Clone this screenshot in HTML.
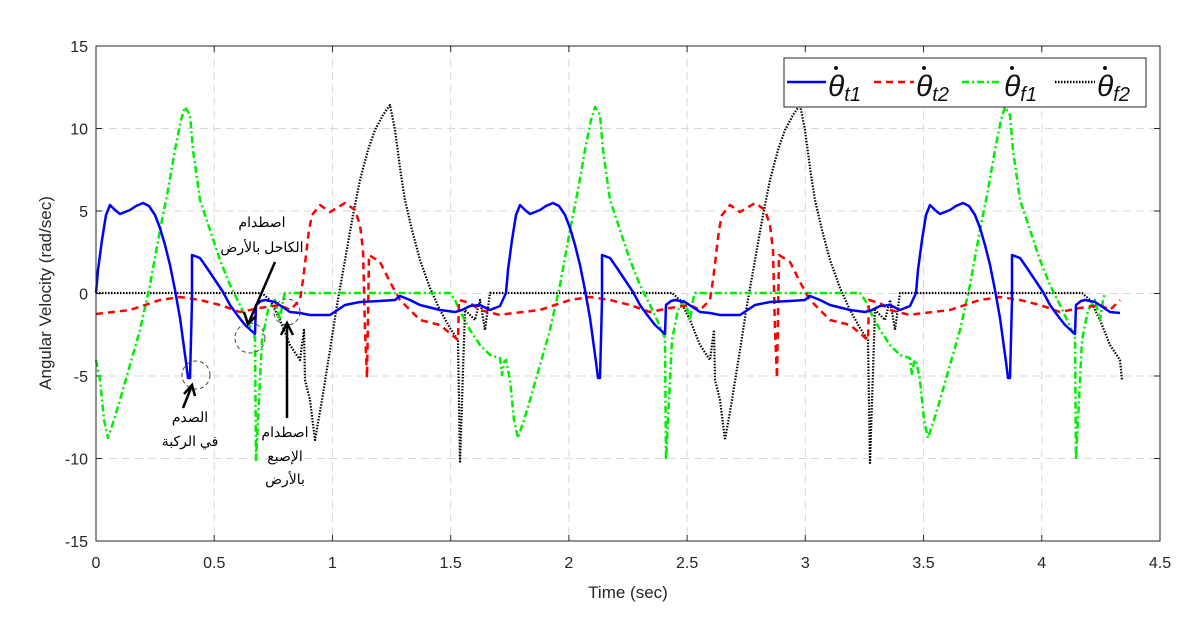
<!DOCTYPE html>
<html><head><meta charset="utf-8"><style>
body{margin:0;background:#fff}
svg{display:block}
text{font-family:"Liberation Sans","Noto Sans CJK SC",sans-serif}
</style></head><body>
<svg id="s" width="1201" height="638" xmlns="http://www.w3.org/2000/svg">
<rect width="1201" height="638" fill="#fff"/>
<g id="grid" stroke="#d8d8d8" stroke-dasharray="8,5" stroke-width="1"></g>
<g id="ticks" font-size="16" fill="#262626"></g>
<g id="series" fill="none" stroke-linejoin="round"></g>
<rect x="96" y="46" width="1064" height="495" fill="none" stroke="#262626" stroke-width="1"/>
<g fill="none" stroke="#444" stroke-dasharray="4,3" stroke-width="1">
<circle cx="196" cy="375" r="14"/><circle cx="250" cy="338" r="15"/><circle cx="287" cy="312" r="13"/>
</g>
<g stroke="#000" stroke-width="2.5" fill="none">
<line x1="275" y1="262" x2="249" y2="322"/><polyline points="244,312 248,324 256,316"/>
<line x1="183" y1="408" x2="191" y2="388"/><polyline points="184,394 192,385 195,396"/>
<line x1="287" y1="418" x2="287" y2="325"/><polyline points="281,335 287,323 293,335"/>
</g>
<g font-size="14" fill="#000" text-anchor="middle">
<text x="262" y="227">اصطدام</text><text x="262" y="252">الكاحل بالأرض</text>
<text x="190" y="422">الصدم</text><text x="190" y="446">في الركبة</text>
<text x="285" y="437">اصطدام</text><text x="285" y="461">الإصبع</text><text x="285" y="484">بالأرض</text>
</g>
<g font-size="17" fill="#262626" text-anchor="middle">
<text x="628" y="598">Time (sec)</text>
<text transform="translate(51,293) rotate(-90)">Angular Velocity (rad/sec)</text>
</g>
<rect x="784" y="58" width="362" height="49" fill="#fff" stroke="#262626"/>
<g stroke-width="2.5">
<line x1="787" y1="82" x2="826" y2="82" stroke="#0000ff"/>
<line x1="874" y1="82" x2="914" y2="82" stroke="#ff0000" stroke-dasharray="7,5"/>
<line x1="962" y1="82" x2="1002" y2="82" stroke="#00ee00" stroke-dasharray="7,3,2,3"/>
<line x1="1055" y1="82" x2="1095" y2="82" stroke="#000" stroke-dasharray="1.5,1.5"/>
</g>
<g font-family="Liberation Serif,serif" font-style="italic" font-size="30" fill="#111">
<text x="828" y="96">θ<tspan font-size="20" dy="5">t1</tspan></text>
<text x="916" y="96">θ<tspan font-size="20" dy="5">t2</tspan></text>
<text x="1004" y="96">θ<tspan font-size="20" dy="5">f1</tspan></text>
<text x="1097" y="96">θ<tspan font-size="20" dy="5">f2</tspan></text>
</g>
<g fill="#111"><circle cx="836" cy="68" r="2"/><circle cx="924" cy="68" r="2"/><circle cx="1012" cy="68" r="2"/><circle cx="1105" cy="68" r="2"/></g>
</svg>
<script>
var NS="http://www.w3.org/2000/svg";
function el(p,n,a,t){var e=document.createElementNS(NS,n);for(var k in a)e.setAttribute(k,a[k]);if(t!=null)e.textContent=t;p.appendChild(e);return e;}
var g=document.getElementById('grid'),tk=document.getElementById('ticks');
for(var i=0;i<=9;i++){var x=96+118.22*i;if(i>0&&i<9)el(g,'line',{x1:x,y1:46,x2:x,y2:541});
el(tk,'line',{x1:x,y1:541,x2:x,y2:535,stroke:'#262626'});el(tk,'line',{x1:x,y1:46,x2:x,y2:52,stroke:'#262626'});
el(tk,'text',{x:x,y:568,'text-anchor':'middle'},(i*0.5).toString());}
var yl=[15,10,5,0,-5,-10,-15];
for(var i=0;i<7;i++){var y=46+82.5*i;if(i>0&&i<6)el(g,'line',{x1:96,y1:y,x2:1160,y2:y});
el(tk,'line',{x1:96,y1:y,x2:102,y2:y,stroke:'#262626'});el(tk,'line',{x1:1160,y1:y,x2:1154,y2:y,stroke:'#262626'});
el(tk,'text',{x:88,y:y+6,'text-anchor':'end'},yl[i].toString());}
var P=410,END=1122;
var blue=[[0,293],[2,270],[6,240],[10,215],[14,205],[19,210],[24,214],[34,210],[40,206],[47,203],[53,206],[59,215],[64,228],[69,245],[74,265],[79,290],[84,318],[87,340],[90,362],[92,378],[94,378],[96,300],[96,255],[104,258],[111,268],[119,280],[127,292],[134,305],[142,316],[149,325],[159,334],[160,305],[165,301],[169,300],[179,302],[194,312],[204,313],[214,315],[234,315],[249,305],[264,302],[284,301],[299,300],[304,296],[314,300],[324,305],[344,310],[359,312],[366,310],[374,306],[384,305],[394,310],[404,306],[410,293]];
var red=[[0,314],[34,310],[64,300],[84,297],[104,300],[124,305],[144,312],[164,308],[184,305],[194,310],[204,300],[207,280],[210,255],[213,230],[216,215],[224,205],[234,212],[249,203],[259,210],[264,225],[267,250],[269,330],[271,378],[273,255],[284,262],[294,282],[304,300],[324,320],[344,325],[362,340],[363,300],[374,303],[384,310],[404,315],[410,314]];
var green=[[0,360],[4,380],[8,420],[12,438],[18,420],[24,400],[34,365],[44,330],[54,285],[64,230],[72,190],[79,150],[85,120],[89,107],[94,115],[97,150],[104,200],[114,230],[124,260],[134,285],[144,305],[152,322],[159,338],[160,460],[163,400],[166,340],[172,310],[179,300],[184,320],[187,300],[189,293],[354,293],[359,300],[366,315],[374,330],[384,345],[394,355],[404,358],[406,375],[408,362],[410,360]];
var black=[[0,293],[166,293],[174,300],[184,320],[194,345],[204,360],[208,330],[209,380],[214,400],[219,440],[226,400],[234,350],[241,305],[249,260],[257,215],[264,180],[272,150],[279,130],[287,115],[294,105],[299,130],[301,145],[305,175],[309,200],[316,230],[324,260],[334,288],[344,310],[354,328],[362,340],[364,463],[369,310],[379,320],[384,300],[389,330],[394,293],[410,293]];
function build(d){var pts=[];for(var k=0;k<3;k++){for(var j=0;j<d.length;j++){var x=96+d[j][0]+P*k;if(x>END)return pts;pts.push(x+','+d[j][1]);}}return pts;}
var s=document.getElementById('series');
el(s,'polyline',{points:build(black).concat(['1122,380']).join(' '),stroke:'#000','stroke-width':2.2,'stroke-dasharray':'1.5,1.5'});
el(s,'polyline',{points:build(green).join(' '),stroke:'#00ee00','stroke-width':2.5,'stroke-dasharray':'7,3,2,3'});
el(s,'polyline',{points:build(red).join(' '),stroke:'#ff0000','stroke-width':2.5,'stroke-dasharray':'7,5'});
el(s,'polyline',{points:build(blue).join(' '),stroke:'#0000ff','stroke-width':2.5});
</script>
</body></html>
